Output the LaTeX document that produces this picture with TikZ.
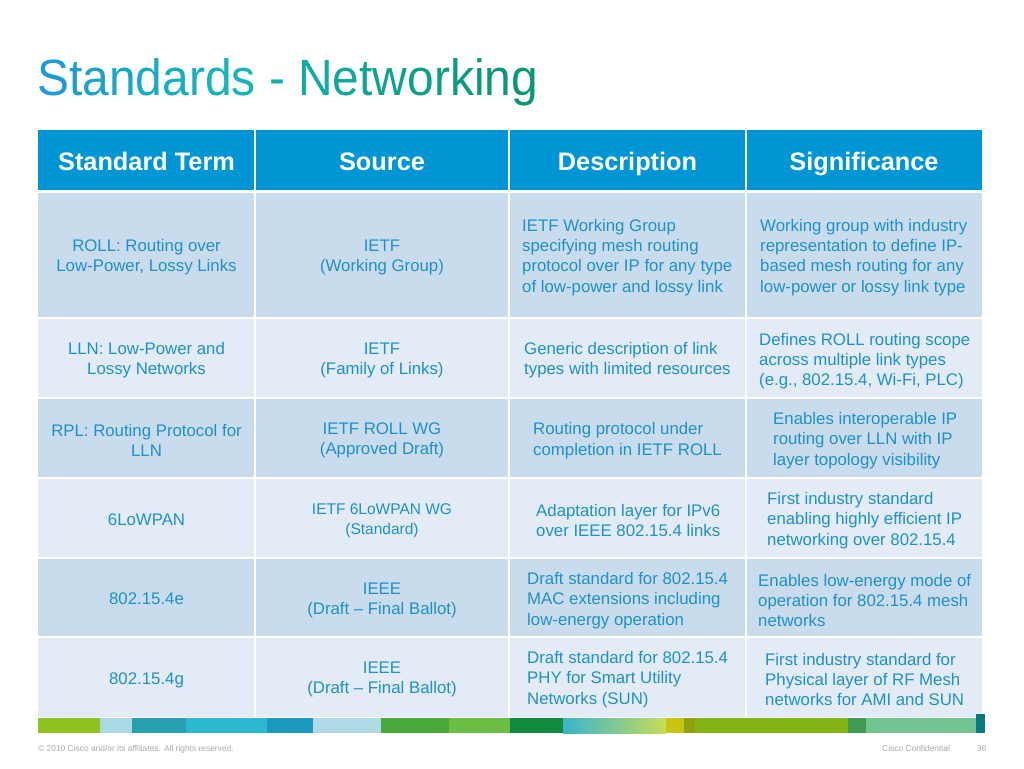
\documentclass[tikz,border=0pt]{standalone}
\usepackage{fontspec}
\setmainfont{Liberation Sans}
\definecolor{hdrblue}{HTML}{0095D5}
\definecolor{rowA}{HTML}{C9DCEE}
\definecolor{rowB}{HTML}{E3ECF6}
\definecolor{txt}{HTML}{1E90CA}
\definecolor{tA}{HTML}{1E9AD6}
\definecolor{tB}{HTML}{14B4BA}
\definecolor{tC}{HTML}{0A9772}
\definecolor{foot}{HTML}{A8A8A8}
\definecolor{b1}{HTML}{8DC21F}
\definecolor{b2}{HTML}{A9D9E3}
\definecolor{b3}{HTML}{26A0B0}
\definecolor{b4}{HTML}{2CB8CF}
\definecolor{b5}{HTML}{1A98C0}
\definecolor{b6}{HTML}{ADDAE4}
\definecolor{b7}{HTML}{4AA83A}
\definecolor{b8}{HTML}{6DBE45}
\definecolor{b9}{HTML}{108A3E}
\definecolor{b10a}{HTML}{38B5CC}
\definecolor{b10b}{HTML}{C8DC58}
\definecolor{b11}{HTML}{C8C410}
\definecolor{b12}{HTML}{8FA010}
\definecolor{b13}{HTML}{84B517}
\definecolor{b14}{HTML}{3D9C52}
\definecolor{b15}{HTML}{72C490}
\definecolor{b16}{HTML}{0A7A80}
\tikzset{
  cell/.style={font=\fontsize{16.8}{20.3}\selectfont, text=txt, inner sep=0pt},
  cc/.style={cell, align=center},
  lc/.style={cell, align=left, anchor=west},
  hdr/.style={font=\bfseries\fontsize{25.3}{29}\selectfont, text=white, inner sep=0pt, anchor=base},
  sep/.style={white, line width=2pt},
  foottext/.style={font=\fontsize{8.4}{10}\selectfont, text=foot, inner sep=0pt, anchor=base west}
}
\begin{document}
\begin{tikzpicture}[x=1pt,y=-1pt]
\useasboundingbox (0,0) rectangle (1024,768);
\fill[white] (0,0) rectangle (1024,768);
% title
\node[anchor=base west, inner sep=0pt, font=\fontsize{51}{60}\selectfont] (title) at (37,95)
 {\scalebox{0.94}[1]{\textcolor{tA}{S}\textcolor{tB!20!tA}{t}\textcolor{tB!35!tA}{a}\textcolor{tB!50!tA}{n}\textcolor{tB!65!tA}{d}\textcolor{tB!80!tA}{a}\textcolor{tB!90!tA}{r}\textcolor{tB}{ds} \textcolor{tC!20!tB}{-} \textcolor{tC!30!tB}{N}\textcolor{tC!40!tB}{e}\textcolor{tC!50!tB}{t}\textcolor{tC!60!tB}{w}\textcolor{tC!70!tB}{o}\textcolor{tC!78!tB}{r}\textcolor{tC!85!tB}{k}\textcolor{tC!90!tB}{i}\textcolor{tC!95!tB}{n}\textcolor{tC}{g}}};
% table fills
\fill[hdrblue] (38,130) rectangle (982,190);
\fill[rowA] (38,193) rectangle (982,318);
\fill[rowB] (38,318) rectangle (982,398);
\fill[rowA] (38,398) rectangle (982,478);
\fill[rowB] (38,478) rectangle (982,558);
\fill[rowA] (38,558) rectangle (982,637);
\fill[rowB] (38,637) rectangle (982,717);
\foreach \yy in {318,398,478,558,637} \draw[sep] (38,\yy) -- (982,\yy);
\foreach \xx in {255,509,746} \draw[sep] (\xx,130) -- (\xx,717);
% header
\node[hdr] (h1) at (146.5,170) {Standard Term};
\node[hdr] (h2) at (382,170) {Source};
\node[hdr] (h3) at (627.5,170) {Description};
\node[hdr] (h4) at (864,170) {Significance};
% row 1
\node[cc] (r1a) at (146.5,257.5) {ROLL: Routing over\\Low-Power, Lossy Links};
\node[cc] (r1b) at (382,257.5) {IETF\\(Working Group)};
\node[lc] (r1c) at (522,257.5) {IETF Working Group\\specifying mesh routing\\protocol over IP for any type\\of low-power and lossy link};
\node[lc] (r1d) at (760,257.5) {Working group with industry\\representation to define IP-\\based mesh routing for any\\low-power or lossy link type};
% row 2
\node[cc] (r2a) at (146.5,360.5) {LLN: Low-Power and\\Lossy Networks};
\node[cc] (r2b) at (382,360.5) {IETF\\(Family of Links)};
\node[lc] (r2c) at (524,360.5) {Generic description of link\\types with limited resources};
\node[lc] (r2d) at (759,361) {Defines ROLL routing scope\\across multiple link types\\(e.g., 802.15.4, Wi-Fi, PLC)};
% row 3
\node[cc] (r3a) at (146.5,440.5) {RPL: Routing Protocol for\\LLN};
\node[cc] (r3b) at (382,440.5) {IETF ROLL WG\\(Approved Draft)};
\node[lc] (r3c) at (533,440.5) {Routing protocol under\\completion in IETF ROLL};
\node[lc] (r3d) at (773,440.5) {Enables interoperable IP\\routing over LLN with IP\\layer topology visibility};
% row 4
\node[cc] (r4a) at (146.5,519.5) {6LoWPAN};
\node[cc, font=\fontsize{15.5}{19.5}\selectfont] (r4b) at (382,520.5) {IETF 6LoWPAN WG\\(Standard)};
\node[lc] (r4c) at (536,520.5) {Adaptation layer for IPv6\\over IEEE 802.15.4 links};
\node[lc] (r4d) at (767,520.5) {First industry standard\\enabling highly efficient IP\\networking over 802.15.4};
% row 5
\node[cc] (r5a) at (146.5,599) {802.15.4e};
\node[cc] (r5b) at (382,600.5) {IEEE\\(Draft – Final Ballot)};
\node[lc] (r5c) at (527,600.5) {Draft standard for 802.15.4\\MAC extensions including\\low-energy operation};
\node[lc] (r5d) at (758,600.5) {Enables low-energy mode of\\operation for 802.15.4 mesh\\networks};
% row 6
\node[cc] (r6a) at (146.5,680.5) {802.15.4g};
\node[cc] (r6b) at (382,679.5) {IEEE\\(Draft – Final Ballot)};
\node[lc] (r6c) at (527,679.5) {Draft standard for 802.15.4\\PHY for Smart Utility\\Networks (SUN)};
\node[lc] (r6d) at (765,679.5) {First industry standard for\\Physical layer of RF Mesh\\networks for AMI and SUN};
% colour bar
\fill[b1] (38,718) rectangle (100,733);
\fill[b2] (100,718) rectangle (132,733);
\fill[b3] (132,718) rectangle (186,733);
\fill[b4] (186,718) rectangle (267,733);
\fill[b5] (267,718) rectangle (313,733);
\fill[b6] (313,718) rectangle (381,733);
\fill[b7] (381,718) rectangle (449,733);
\fill[b8] (449,718) rectangle (510,733);
\fill[b9] (510,718) rectangle (563,733);
\shade[left color=b10a, right color=b10b] (563,718) rectangle (666,733);
\fill[b11] (666,718) rectangle (684,733);
\fill[b12] (684,718) rectangle (695,733);
\fill[b13] (695,718) rectangle (848,733);
\fill[b14] (848,718) rectangle (866,733);
\fill[b15] (866,718) rectangle (976,733);
\fill[b16] (976,714) rectangle (985,733);
% footer
\node[foottext] (f1) at (38,751) {© 2010 Cisco and/or its affiliates. All rights reserved.};
\node[foottext] (f2) at (882,751) {Cisco Confidential};
\node[foottext] (f3) at (977,751) {36};
\end{tikzpicture}
\end{document}
